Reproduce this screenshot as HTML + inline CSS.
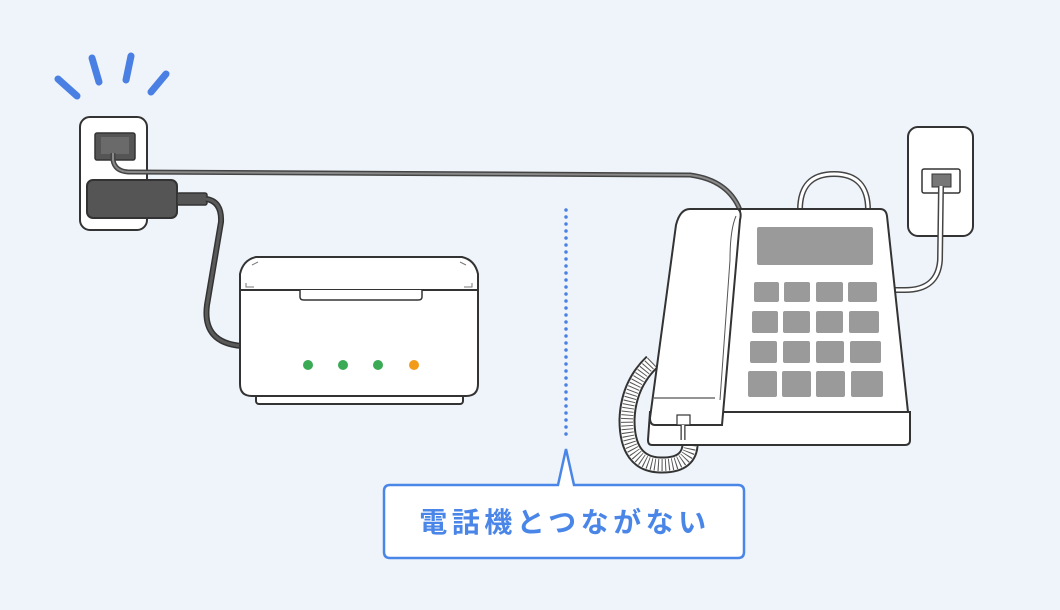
<!DOCTYPE html>
<html><head><meta charset="utf-8">
<style>
html,body{margin:0;padding:0;background:#eef4f9;}
svg{display:block;}
</style></head>
<body>
<svg width="1060" height="610" viewBox="0 0 1060 610" xmlns="http://www.w3.org/2000/svg">
<rect width="1060" height="610" fill="#eef4f9"/>

<g stroke="#4a80e4" stroke-width="7" stroke-linecap="round">
<line x1="58" y1="79" x2="77" y2="96"/>
<line x1="92" y1="58" x2="99" y2="82"/>
<line x1="131" y1="56" x2="126" y2="80"/>
<line x1="166" y1="74" x2="151" y2="92"/>
</g>

<rect x="80" y="117" width="67" height="113" rx="10" fill="#fff" stroke="#333" stroke-width="2"/>
<rect x="95" y="133" width="40" height="27" rx="2" fill="#555" stroke="#333" stroke-width="1.5"/>
<rect x="101" y="137" width="28" height="17" fill="#6a6a6a"/>
<path d="M113 153 L113 160 Q115 172 130 172 L690 175 Q728 180 740 210" fill="none" stroke="#444" stroke-width="5"/>
<path d="M113 153 L113 160 Q115 172 130 172 L690 175 Q728 180 740 210" fill="none" stroke="#8a8a8a" stroke-width="2"/>
<rect x="87" y="180" width="90" height="38" rx="6" fill="#555" stroke="#333" stroke-width="2"/>
<rect x="177" y="193" width="30" height="12" rx="2" fill="#555" stroke="#333" stroke-width="1.5"/>
<path d="M206 199 Q222 201 221 222 L207 305 Q202 343 242 346" fill="none" stroke="#333" stroke-width="6"/>
<path d="M206 199 Q222 201 221 222 L207 305 Q202 343 242 346" fill="none" stroke="#5a5a5a" stroke-width="3"/>

<rect x="256" y="392" width="207" height="12" rx="3" fill="#fff" stroke="#333" stroke-width="2"/>
<path d="M240 290 L478 290 L478 384 Q478 396 466 396 L252 396 Q240 396 240 384 Z" fill="#fff" stroke="#333" stroke-width="2"/>
<path d="M240 290 L240 274 Q243 260 256 257 L462 257 Q475 260 478 274 L478 290 Z" fill="#fff" stroke="#333" stroke-width="2"/>
<path d="M246 283 L246 287 L254 287 M472 283 L472 287 L464 287 M252 265 L258 262 M466 265 L460 262" fill="none" stroke="#777" stroke-width="1"/>
<path d="M300 290 L300 297 Q300 300 304 300 L418 300 Q422 300 422 297 L422 290" fill="#fff" stroke="#333" stroke-width="1.5"/>
<circle cx="308" cy="365" r="5" fill="#3aaa55"/>
<circle cx="343" cy="365" r="5" fill="#3aaa55"/>
<circle cx="378" cy="365" r="5" fill="#3aaa55"/>
<circle cx="414" cy="365" r="5" fill="#f29a1a"/>

<line x1="566" y1="210" x2="566" y2="438" stroke="#4a80e4" stroke-width="3.5" stroke-linecap="round" stroke-dasharray="0 7"/>

<path d="M390 485 L558 485 L566 449 L574 485 L738 485 Q744 485 744 491 L744 552 Q744 558 738 558 L390 558 Q384 558 384 552 L384 491 Q384 485 390 485 Z" fill="#fff" stroke="#4a86e8" stroke-width="2.5"/>
<text x="565" y="532" text-anchor="middle" font-family="'Liberation Sans','Noto Sans CJK JP',sans-serif" font-size="28" font-weight="bold" letter-spacing="4.5" fill="#4a86e8">電話機とつながない</text>

<rect x="908" y="127" width="65" height="109" rx="10" fill="#fff" stroke="#333" stroke-width="2"/>
<rect x="922" y="169" width="38" height="24" rx="2" fill="#fff" stroke="#333" stroke-width="1.5"/>
<rect x="932" y="174" width="19" height="13" fill="#777" stroke="#333" stroke-width="1"/>
<path d="M941 186 L940 260 Q938 290 905 290 L895 290" fill="none" stroke="#444" stroke-width="6"/>
<path d="M941 186 L940 260 Q938 290 905 290 L895 290" fill="none" stroke="#fff" stroke-width="3"/>
<path d="M800 210 Q800 174 834 174 Q868 174 868 210" fill="none" stroke="#444" stroke-width="6"/>
<path d="M800 210 Q800 174 834 174 Q868 174 868 210" fill="none" stroke="#fff" stroke-width="3"/>

<!-- coil cord (behind) -->
<path d="M652 362 Q628 385 627 420 Q627 464 660 465 Q692 466 690 440 L686 425" fill="none" stroke="#333" stroke-width="17"/>
<path d="M652 362 Q628 385 627 420 Q627 464 660 465 Q692 466 690 440 L686 425" fill="none" stroke="#fff" stroke-width="13"/>
<path d="M652 362 Q628 385 627 420 Q627 464 660 465 Q692 466 690 440 L686 425" fill="none" stroke="#555" stroke-width="12" stroke-dasharray="1 2.5"/>

<path d="M650 412 L910 412 L910 440 Q910 445 905 445 L652 445 Q648 445 648 440 Z" fill="#fff" stroke="#333" stroke-width="2"/>
<path d="M740 209 L880 209 Q886 209 887 216 L908 412 L722 412 Z" fill="#fff" stroke="#333" stroke-width="2"/>
<path d="M690 209 L738 209 Q742 212 740 220 L722 425 L655 425 Q650 425 650 418 L676 225 Q680 209 690 209 Z" fill="#fff" stroke="#333" stroke-width="2"/>
<path d="M736 216 Q730 230 730 260 L720 400" fill="none" stroke="#555" stroke-width="1"/>
<line x1="654" y1="398" x2="715" y2="398" stroke="#555" stroke-width="1.2"/>
<rect x="757" y="227" width="116" height="38" rx="2" fill="#9a9a9a"/>
<g fill="#9a9a9a">
<rect x="754" y="282" width="25" height="20" rx="2"/><rect x="784" y="282" width="26" height="20" rx="2"/><rect x="816" y="282" width="27" height="20" rx="2"/><rect x="848" y="282" width="29" height="20" rx="2"/>
<rect x="752" y="311" width="26" height="22" rx="2"/><rect x="783" y="311" width="27" height="22" rx="2"/><rect x="816" y="311" width="27" height="22" rx="2"/><rect x="849" y="311" width="30" height="22" rx="2"/>
<rect x="750" y="341" width="27" height="22" rx="2"/><rect x="783" y="341" width="27" height="22" rx="2"/><rect x="816" y="341" width="28" height="22" rx="2"/><rect x="850" y="341" width="31" height="22" rx="2"/>
<rect x="748" y="371" width="29" height="26" rx="2"/><rect x="782" y="371" width="29" height="26" rx="2"/><rect x="816" y="371" width="29" height="26" rx="2"/><rect x="851" y="371" width="32" height="26" rx="2"/>
</g>
<rect x="677" y="415" width="13" height="10" fill="#fff" stroke="#333" stroke-width="1.2"/>
<path d="M683 425 L683 440" stroke="#333" stroke-width="5"/>
<path d="M683 425 L683 440" stroke="#fff" stroke-width="2.5"/>
</svg>
</body></html>
